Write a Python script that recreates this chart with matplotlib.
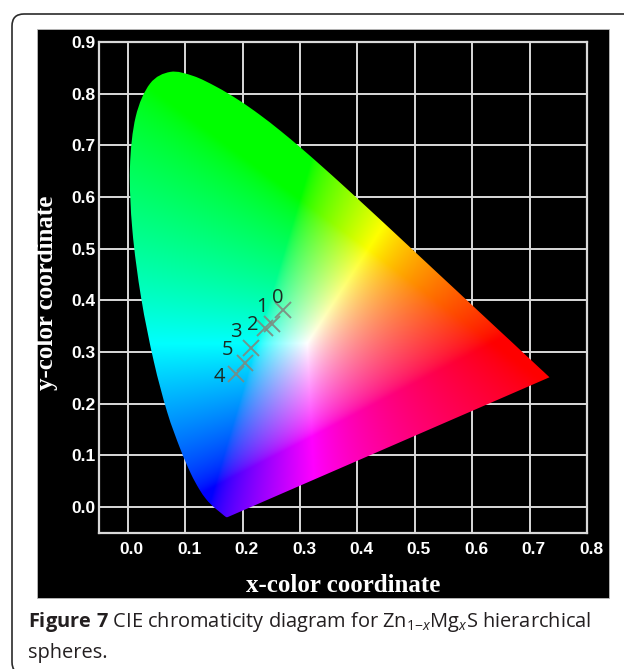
import numpy as np
import matplotlib
matplotlib.use("Agg")
import matplotlib.pyplot as plt
from matplotlib.patches import PathPatch, FancyBboxPatch, Rectangle
from matplotlib.path import Path
from matplotlib.transforms import ScaledTranslation, Affine2D

# ---------------- data ----------------
# CIE 1931 spectral locus (x, y), 380-700 nm
locus_x = [0.1741, 0.1740, 0.1738, 0.1736, 0.1733, 0.1730, 0.1726, 0.1721, 0.1714, 0.1703,
           0.1689, 0.1669, 0.1644, 0.1611, 0.1566, 0.1510, 0.1440, 0.1355, 0.1241, 0.1096,
           0.0913, 0.0687, 0.0454, 0.0235, 0.0082, 0.0039, 0.0139, 0.0389, 0.0743, 0.1142,
           0.1547, 0.1929, 0.2296, 0.2658, 0.3016, 0.3373, 0.3731, 0.4087, 0.4441, 0.4788,
           0.5125, 0.5448, 0.5752, 0.6029, 0.6270, 0.6482, 0.6658, 0.6801, 0.6915, 0.7006,
           0.7079, 0.7140, 0.7190, 0.7230, 0.7260, 0.7283, 0.7300, 0.7311, 0.7320, 0.7327,
           0.7334, 0.7344, 0.7347]
locus_y = [0.0050, 0.0050, 0.0049, 0.0049, 0.0048, 0.0048, 0.0048, 0.0048, 0.0051, 0.0058,
           0.0069, 0.0086, 0.0109, 0.0138, 0.0177, 0.0227, 0.0297, 0.0399, 0.0578, 0.0868,
           0.1327, 0.2007, 0.2950, 0.4127, 0.5384, 0.6548, 0.7502, 0.8120, 0.8338, 0.8262,
           0.8059, 0.7816, 0.7543, 0.7243, 0.6923, 0.6589, 0.6245, 0.5896, 0.5547, 0.5202,
           0.4866, 0.4544, 0.4242, 0.3965, 0.3725, 0.3514, 0.3340, 0.3197, 0.3083, 0.2993,
           0.2920, 0.2859, 0.2809, 0.2770, 0.2740, 0.2717, 0.2700, 0.2689, 0.2680, 0.2673,
           0.2666, 0.2656, 0.2653]

# samples (Mg content index) and their chromaticity coordinates
sample_labels = ["0", "1", "2", "3", "5", "4"]
sample_x = [0.270, 0.251, 0.240, 0.215, 0.204, 0.189]
sample_y = [0.381, 0.354, 0.346, 0.307, 0.279, 0.258]

xticks = [0.0, 0.1, 0.2, 0.3, 0.4, 0.5, 0.6, 0.7, 0.8]
yticks = [0.0, 0.1, 0.2, 0.3, 0.4, 0.5, 0.6, 0.7, 0.8, 0.9]
xlabel = "x-color coordinate"
ylabel = "y-color coordinate"
caption1 = r"$\mathbf{Figure\ 7}$ CIE chromaticity diagram for Zn$_{1\mathrm{-}\mathit{x}}$Mg$_{\mathit{x}}$S hierarchical"
caption2 = "spheres."

# label offsets (points) relative to markers
label_off = [(-3.6, 8.6), (-7.2, 12.2), (-9.4, 2.2), (-10.8, 12.0), (-12.2, 9.1), (-12.0, -2.4)]

# ---------------- figure ----------------
W, H = 624, 669
plt.rcParams["mathtext.fontset"] = "custom"
plt.rcParams["mathtext.rm"] = "Open Sans"
plt.rcParams["mathtext.it"] = "Open Sans:italic"
plt.rcParams["mathtext.bf"] = "Open Sans:bold"

fig = plt.figure(figsize=(W / 100, H / 100), dpi=100)
fig.patch.set_facecolor("white")


def frect(x0, y0, x1, y1):
    return [x0 / W, 1 - y1 / H, (x1 - x0) / W, (y1 - y0) / H]


bg = fig.add_axes([0, 0, 1, 1])
bg.set_xlim(0, W)
bg.set_ylim(H, 0)
bg.axis("off")
bg.add_patch(FancyBboxPatch((12, 14), 640, 660, boxstyle="round,pad=0,rounding_size=12",
                            fc="white", ec="#2b2b2b", lw=1.2))
bg.add_patch(Rectangle((37, 29), 572, 569, fc="black", ec="#bbbbbb", lw=0.6))

ax = fig.add_axes(frect(99, 42, 587, 532.7))
ax.set_facecolor("black")
ax.set_xlim(-0.05, 0.8)
ax.set_ylim(-0.05, 0.9)
grid_c = "#d9d9d9"
for s in ax.spines.values():
    s.set_color(grid_c)
    s.set_linewidth(1.6)
for xv in xticks[:-1]:
    ax.axvline(xv, color=grid_c, lw=1.4, zorder=1)
for yv in yticks[:-1]:
    ax.axhline(yv, color=grid_c, lw=1.4, zorder=1)

# colour fill of the chromaticity diagram
nx, ny = 700, 780
xs = np.linspace(-0.05, 0.8, nx)
ys = np.linspace(-0.05, 0.9, ny)
XX, YY = np.meshgrid(xs, ys)
Yc = np.clip(YY, 1e-3, None)
Xc = XX / Yc
Zc = (1 - XX - YY) / Yc
M = np.array([[3.2406, -1.5372, -0.4986],
              [-0.9689, 1.8758, 0.0415],
              [0.0557, -0.2040, 1.0570]])
xyz = np.stack([Xc, np.ones_like(Xc), Zc], axis=-1)
rgb = xyz @ M.T
rgb = np.clip(rgb, 0, None)
rgb = rgb / (rgb.max(axis=-1, keepdims=True) + 1e-12)
rgb = np.power(rgb, 1.35)
rgb = np.where(rgb <= 0.0031308, 12.92 * rgb, 1.055 * np.power(rgb, 1 / 2.4) - 0.055)
rgb = np.clip(rgb, 0, 1)

# the pasted diagram in the source is slightly stretched/shifted vertically
diag = Affine2D().scale(1.0, 1.04).translate(0.0, -0.025) + ax.transData

# smooth outline through the locus points (Catmull-Rom as cubic Bezier)
P = np.column_stack([locus_x, locus_y])
n = len(P)
verts = [P[0]]
codes = [Path.MOVETO]
for i in range(n - 1):
    p0 = P[max(i - 1, 0)]
    p1 = P[i]
    p2 = P[i + 1]
    p3 = P[min(i + 2, n - 1)]
    verts += [p1 + (p2 - p0) / 6.0, p2 - (p3 - p1) / 6.0, p2]
    codes += [Path.CURVE4] * 3
verts += [P[0], P[0]]
codes += [Path.LINETO, Path.CLOSEPOLY]
outline = PathPatch(Path(np.array(verts), codes), fc="none", ec="none", transform=diag)
ax.add_patch(outline)

im = ax.imshow(rgb, extent=(-0.05, 0.8, -0.05, 0.9), origin="lower", interpolation="bilinear",
               zorder=2, aspect="auto")
im.set_transform(diag)
im.set_clip_path(outline)

# sample markers
ax.plot(sample_x, sample_y, linestyle="none", marker="x", ms=11, mew=1.4,
        color="#7e8a80", alpha=0.9, zorder=4)
for lab, sx, sy, (dx, dy) in zip(sample_labels, sample_x, sample_y, label_off):
    ax.annotate(lab, (sx, sy), xytext=(dx, dy), textcoords="offset points",
                ha="center", va="center", fontsize=14.5, family="Open Sans",
                color="#1c2a22", zorder=5)

# ticks
tick_font = dict(family=["Liberation Sans", "DejaVu Sans"], weight="bold", size=12.5)
ax.set_xticks(xticks)
ax.set_yticks(yticks)
ax.set_xticklabels([f"{v:.1f}" for v in xticks], color="white", **tick_font)
ax.set_yticklabels([f"{v:.1f}" for v in yticks], color="white", **tick_font)
ax.tick_params(axis="both", length=0)
ax.tick_params(axis="x", pad=7)
ax.tick_params(axis="y", pad=2.5)
off = ScaledTranslation(4 / 100, 0, fig.dpi_scale_trans)
for t in ax.get_xticklabels():
    t.set_transform(t.get_transform() + off)

serif = ["Liberation Serif", "DejaVu Serif"]
fig.text(343 / W, 1 - 585 / H, xlabel, ha="center", va="center", color="white",
         family=serif, weight="bold", fontsize=18)
fig.text(47 / W, 1 - 293 / H, ylabel, ha="center", va="center", color="white",
         family=serif, weight="bold", fontsize=18, rotation=90)

# caption
fig.text(28 / W, 1 - 622 / H, caption1, ha="left", va="center", color="#231f20",
         family="Open Sans", fontsize=14.4)
fig.text(28 / W, 1 - 653 / H, caption2, ha="left", va="center", color="#231f20",
         family="Open Sans", fontsize=14.4)

fig.savefig("out.png", dpi=100, facecolor="white")
